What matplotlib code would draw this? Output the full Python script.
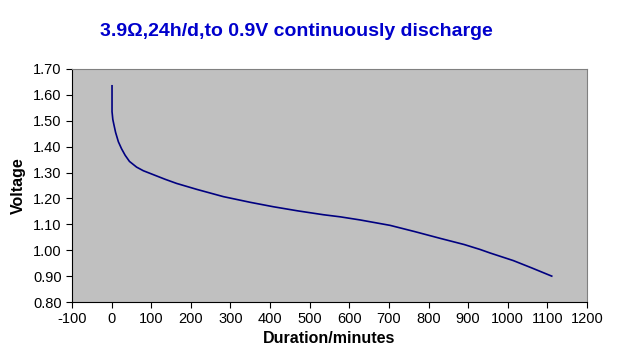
import matplotlib
matplotlib.use("Agg")
import matplotlib.pyplot as plt
from matplotlib.ticker import FormatStrFormatter

# discharge curve
minutes = [1, 1, 3, 6, 10, 17, 25, 34, 45, 63, 80, 105, 135, 164, 215, 282, 350, 408, 470,
           535, 577, 627, 703, 765, 829, 890, 930, 956, 1014, 1060, 1111]
voltage = [1.635, 1.535, 1.505, 1.483, 1.455, 1.419, 1.392, 1.367, 1.343, 1.321, 1.307, 1.292,
           1.274, 1.258, 1.235, 1.207, 1.185, 1.168, 1.152, 1.137, 1.129, 1.117, 1.096, 1.072,
           1.046, 1.022, 1.003, 0.989, 0.960, 0.932, 0.900]

x_ticks = list(range(-100, 1201, 100))
y_ticks = [0.80, 0.90, 1.00, 1.10, 1.20, 1.30, 1.40, 1.50, 1.60, 1.70]

plt.rcParams['font.family'] = ['Liberation Sans', 'DejaVu Sans']
plt.rcParams['axes.unicode_minus'] = False

fig = plt.figure(figsize=(6.23, 3.63), dpi=100)
ax = fig.add_axes([0.1156, 0.168, 0.8266, 0.642])
ax.set_facecolor("#C0C0C0")

ax.plot(minutes, voltage, color="#000080", linewidth=1.2)

ax.set_xlim(-100, 1200)
ax.set_ylim(0.80, 1.70)
ax.set_xticks(x_ticks)
ax.set_yticks(y_ticks)
ax.yaxis.set_major_formatter(FormatStrFormatter("%.2f"))
ax.tick_params(labelsize=10.5, direction="out", length=4, color="black")

for side in ["top", "right"]:
    ax.spines[side].set_color("#808080")
for side in ["left", "bottom"]:
    ax.spines[side].set_color("black")

ax.set_xlabel("Duration/minutes", fontsize=11.5, fontweight="bold", labelpad=3)
ax.set_ylabel("Voltage", fontsize=11.5, fontweight="bold", labelpad=5)

fig.text(0.475, 0.912, "3.9Ω,24h/d,to 0.9V continuously discharge", color="#0000CC",
         fontsize=14, fontweight="bold", ha="center", va="center")

fig.savefig("out.png", dpi=100)
